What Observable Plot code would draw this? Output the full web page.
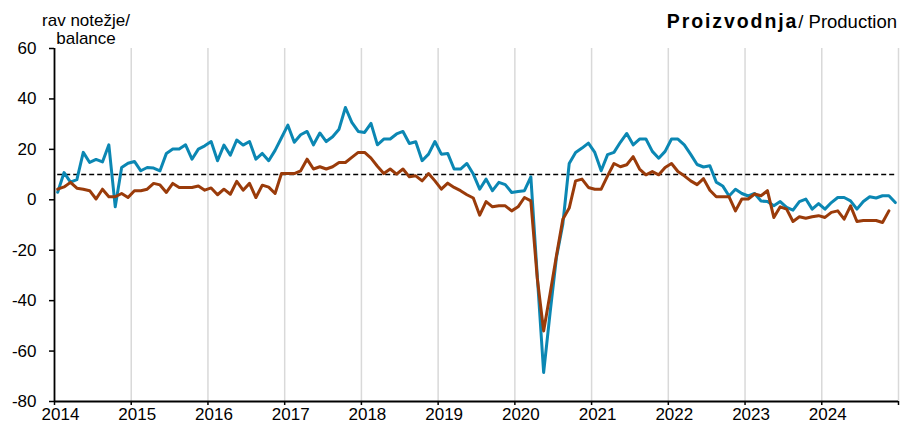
<!DOCTYPE html>
<html>
<head>
<meta charset="utf-8">
<script src="https://cdn.jsdelivr.net/npm/d3@7"></script>
<script src="https://cdn.jsdelivr.net/npm/@observablehq/plot@0.6"></script>
<style>
  html, body { margin: 0; padding: 0; background: #fff; }
  #wrap { position: relative; width: 904px; height: 422px; font-family: "Liberation Sans", Arial, sans-serif; color: #000; }
  #title { position: absolute; top: 10px; right: 7px; font-size: 18.5px; line-height: 22px; white-space: nowrap; }
  #title b { letter-spacing: 1.9px; font-size: 19.5px; }
  #ylab { position: absolute; top: 12px; left: 26px; width: 120px; text-align: center; font-size: 17px; line-height: 18px; }
</style>
</head>
<body>
<div id="wrap">
  <div id="chart"></div>
  <div id="title"><b>Proizvodnja</b>/ Production</div>
  <div id="ylab">rav notežje/<br>balance</div>
</div>
<script>
const years = [2014, 2015, 2016, 2017, 2018, 2019, 2020, 2021, 2022, 2023, 2024];
const yTicks = [-80, -60, -40, -20, 0, 20, 40, 60];
const referenceLevel = 10;

// monthly values from January 2014
const seriesBlue = [
  3, 10.8, 7, 8, 18.8, 14.8, 16, 15, 21.8, -2.8, 12.8, 14.5,
  15.2, 11.5, 12.8, 12.6, 11.5, 18.4, 20.1, 20.1, 21.8, 16.1, 20.1, 21.4,
  23.1, 15.5, 21.7, 17.7, 23.7, 21.7, 23.1, 16.1, 18.4, 15.5, 19.6, 24.6,
  29.6, 22.8, 25.8, 27.1, 21.8, 26.5, 23.1, 25, 28, 36.6, 30.7, 27.1,
  26.7, 30.3, 21.8, 24.1, 24.1, 26.1, 27.1, 22.3, 23, 15.5, 18.1, 23.1,
  18.1, 18.4, 12.2, 12.2, 14.4, 10.2, 4.2, 8.2, 3.6, 6.9, 6.0, 2.9,
  3.3, 3.6, 9.1, -30, -68.5, -45, -22.9, -9.7, 14.4, 18.8, 20.5, 22.5,
  18.8, 11.5, 17.9, 18.8, 22.8, 26.3, 21.8, 24.1, 24.1, 19.2, 16.5, 19.2,
  24.1, 24.1, 21.8, 18, 14, 13, 13.5, 7, 5.5, 1.5, 4.2, 2.5,
  1.5, 2.5, -0.5, -0.7, -2.4, -0.7, -3, -4.1, -0.7, 0.3, -3.7, -1.5,
  -3.7, -1.1, 0.9, 0.9, -0.4, -3.7, -0.7, 1.2, 0.7, 1.6, 1.6, -1.1
];
const seriesBrown = [
  4.2, 5.1, 6.9, 4.6, 4.2, 3.6, 0.3, 4.2, 1.2, 1.2, 2.5, 0.9,
  3.6, 3.6, 4.2, 6.5, 5.9, 2.9, 6.5, 4.9, 4.9, 4.9, 5.5, 3.8,
  4.7, 2.0, 4.2, 2.2, 7.3, 3.8, 6.5, 0.9, 5.8, 5.0, 2.5, 10.4,
  10.4, 10.4, 11.5, 16.1, 12.2, 13.1, 12.2, 13.1, 14.8, 14.8, 16.8, 18.8,
  18.8, 16.5, 13.3, 10.4, 12.2, 10.2, 12.2, 9.1, 9.5, 7.5, 10.4, 7.5,
  4.2, 6.6, 4.9, 3.6, 2.0, 0.7, -6.1, -0.7, -2.8, -2.4, -2.4, -4.4,
  -2.8, 0.9, -0.4, -31, -52, -37.4, -22.2, -7.7, -3.3, 7.5, 8.2, 4.9,
  4.2, 4.2, 9.5, 14.4, 13.1, 13.9, 17.1, 12.2, 9.9, 11.2, 9.9, 12.8,
  14.4, 11.2, 9.5, 7.5, 6, 8.4, 3.8, 1.2, 1.2, 1.2, -4.4, 0.3,
  0.3, 2.3, 1.6, 3.6, -7, -2.8, -3.7, -8.6, -6.7, -7.3, -6.7, -6.3,
  -7, -5, -4.4, -7.7, -2.4, -8.6, -8.2, -8.2, -8.2, -9, -4.4
];

const blueColor = "#0b87b3";
const brownColor = "#9a3b0a";

const nMonths = years.length * 12;
const toRows = arr => arr.map((v, i) => ({m: i + 0.5, v}));
const blueRows = toRows(seriesBlue);
const brownRows = toRows(seriesBrown);
const yearStarts = years.map((y, i) => i * 12);
const boundaries = [...yearStarts, nMonths];

const chart = Plot.plot({
  width: 904,
  height: 422,
  marginLeft: 54,
  marginRight: 6,
  marginTop: 48,
  marginBottom: 21,
  style: {fontFamily: '"Liberation Sans", Arial, sans-serif', fontSize: "17px", color: "#000", background: "#fff", overflow: "visible"},
  x: {type: "linear", domain: [0, nMonths], axis: null},
  y: {domain: [-80, 60], axis: null},
  marks: [
    Plot.ruleX(boundaries.slice(1), {stroke: "#d9d9d9", strokeWidth: 1.5}),
    Plot.ruleY([referenceLevel], {x1: 0.5, x2: nMonths - 0.5, stroke: "#000", strokeWidth: 1.5, strokeDasharray: "5,3"}),
    Plot.line(blueRows, {x: "m", y: "v", stroke: blueColor, strokeWidth: 3, strokeLinejoin: "round"}),
    Plot.line(brownRows, {x: "m", y: "v", stroke: brownColor, strokeWidth: 3, strokeLinejoin: "round"}),
    Plot.ruleX([0], {stroke: "#000", strokeWidth: 1.8}),
    Plot.ruleY([-80], {stroke: "#000", strokeWidth: 1.8}),
    Plot.axisY({ticks: yTicks, tickSize: 5, tickPadding: 13, fontSize: 17, label: null, tickFormat: d => String(d), strokeWidth: 1.5}),
    Plot.axisX({ticks: boundaries, tickSize: 4, tickFormat: () => "", label: null, strokeWidth: 1.5}),
    Plot.axisX({ticks: yearStarts, tickSize: 0, tickPadding: 6, dx: 6, fontSize: 17, label: null, tickFormat: d => String(years[d / 12])})
  ]
});
document.getElementById("chart").appendChild(chart);
</script>
</body>
</html>
